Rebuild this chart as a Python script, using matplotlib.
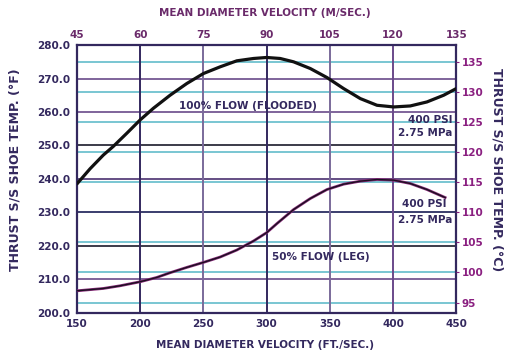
import numpy as np
import matplotlib
matplotlib.use("Agg")
import matplotlib.pyplot as plt

# mean diameter velocity, ft/s, and thrust shoe temperature, deg F
flooded_ft = [150, 160.3, 170.8, 178.7, 189.3, 199.9, 210.4, 223.6, 236.8, 250, 263.2, 276.4,
              289.6, 300, 310.7, 321.3, 334.5, 347.7, 360.9, 374.1, 387.3, 400.5, 413.6,
              426.8, 440.0, 450]
flooded_temp = [238.5, 243.0, 247.1, 249.7, 253.6, 257.6, 261.1, 265.0, 268.5, 271.5, 273.5, 275.3,
                276.0, 276.3, 276.0, 275.0, 273.0, 270.3, 267.0, 264.0, 262.0, 261.5, 261.8,
                263.0, 265.0, 267.0]

leg_ft = [150, 170.8, 184, 199.9, 213.1, 223.6, 236.8, 250, 263.2, 276.4, 289.6, 300,
          308.1, 321.3, 334.5, 347.7, 360.9, 374.1, 387.3, 400.5, 413.6, 426.8, 441.2]
leg_temp = [206.5, 207.2, 208.0, 209.2, 210.5, 211.9, 213.5, 215.0, 216.6, 218.7, 221.4, 223.9,
            226.6, 230.8, 234.1, 236.8, 238.4, 239.3, 239.8, 239.6, 238.6, 236.8, 234.4]

ft_ticks = [150, 200, 250, 300, 350, 400, 450]
ms_ticks = [45, 60, 75, 90, 105, 120, 135]
f_ticks = [200, 210, 220, 230, 240, 250, 260, 270, 280]
c_ticks = [95, 100, 105, 110, 115, 120, 125, 130, 135]

navy = '#33285e'
purple = '#6a2a6a'
magenta = '#8a1f80'
cyan = '#62bccb'


def f_to_c(f):
    return (f - 32) / 1.8


fig = plt.figure(figsize=(5.05, 3.58), dpi=100)
ax = fig.add_axes([0.1525, 0.127, 0.751, 0.747])
ax.set_xlim(150, 450)
ax.set_ylim(200, 280)

# grid: cyan at celsius ticks, dark at fahrenheit ticks
for c in c_ticks:
    ax.axhline(c * 1.8 + 32, color=cyan, lw=1.2, zorder=1)
grid_cols = ['#33285e', '#6a4a8a', '#1a1a2a', '#33285e', '#4a3070', '#1a1a2a', '#6a4a8a', '#6a4a8a', '#33285e']
for f, col in zip(f_ticks, grid_cols):
    ax.axhline(f, color=col, lw=1.2, zorder=1)
v_cols = ['#33285e', '#33285e', '#7a6a9a', '#33285e', '#7a6a9a', '#6a4a8a', '#33285e']
for x, col in zip(ft_ticks, v_cols):
    ax.axvline(x, color=col, lw=1.4, zorder=1)

ax.plot(flooded_ft, flooded_temp, color='#111111', lw=2.3, zorder=3, solid_capstyle='round')
ax.plot(leg_ft, leg_temp, color='#8a2a7a', lw=2.0, zorder=3)
ax.plot(leg_ft, leg_temp, color='#1a1020', lw=1.0, zorder=4)

for s in ax.spines.values():
    s.set_color(navy)
    s.set_linewidth(1.6)

tf = dict(fontsize=7.5, fontweight='bold')
ax.set_xticks(ft_ticks)
ax.set_xticklabels([str(t) for t in ft_ticks], color=navy, **tf)
ax.set_yticks(f_ticks)
ax.set_yticklabels(['%.1f' % t for t in f_ticks], color=navy, **tf)
ax.tick_params(length=0, pad=5)

ax2 = ax.twinx()
ax2.set_ylim(f_to_c(200), f_to_c(280))
ax2.set_yticks(c_ticks)
ax2.set_yticklabels([str(t) for t in c_ticks], color=magenta, **tf)
ax2.tick_params(length=2, color=magenta, pad=2)
for s in ax2.spines.values():
    s.set_visible(False)

top = ax.secondary_xaxis('top', functions=(lambda f: f * 0.3, lambda m: m / 0.3))
top.set_xticks(ms_ticks)
top.set_xticklabels([str(t) for t in ms_ticks], color=purple, **tf)
top.tick_params(length=0, pad=4)
top.spines['top'].set_visible(False)

lab = dict(fontsize=7.5, fontweight='bold', color=navy)
ax.text(231, 261.8, '100% FLOW (FLOODED)', ha='left', va='center', **lab)
ax.text(447, 257.5, '400 PSI', ha='right', va='center', **lab)
ax.text(447, 253.8, '2.75 MPa', ha='right', va='center', **lab)
ax.text(442, 232.6, '400 PSI', ha='right', va='center', **lab)
ax.text(447, 227.8, '2.75 MPa', ha='right', va='center', **lab)
ax.text(304, 216.6, '50% FLOW (LEG)', ha='left', va='center', **lab)

fig.text(0.525, 0.965, 'MEAN DIAMETER VELOCITY (M/SEC.)', ha='center', va='center',
         fontsize=7.5, fontweight='bold', color=purple)
fig.text(0.525, 0.035, 'MEAN DIAMETER VELOCITY (FT./SEC.)', ha='center', va='center',
         fontsize=7.5, fontweight='bold', color=navy)
fig.text(0.03, 0.525, 'THRUST S/S SHOE TEMP. (°F)', rotation=90, ha='center', va='center',
         fontsize=9, fontweight='bold', color=navy)
fig.text(0.985, 0.525, 'THRUST S/S SHOE TEMP. (°C)', rotation=270, ha='center', va='center',
         fontsize=9, fontweight='bold', color=navy)

fig.savefig('out.png', dpi=100)
